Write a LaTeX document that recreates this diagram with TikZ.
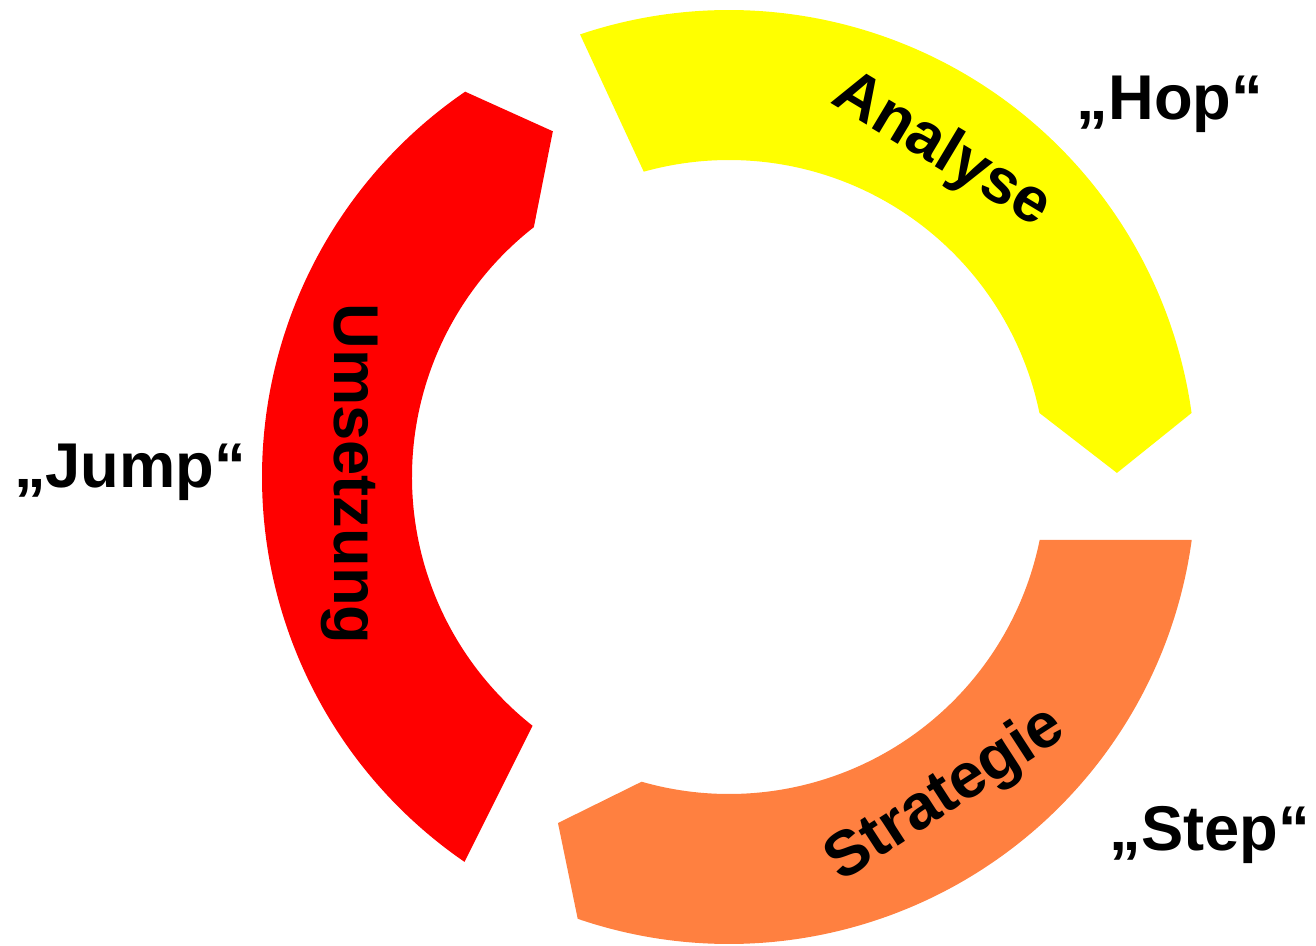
\documentclass[tikz,border=0pt]{standalone}
\usepackage{fontspec}
\setmainfont{Liberation Sans}
\definecolor{segyellow}{RGB}{255,255,0}
\definecolor{segred}{RGB}{255,0,0}
\definecolor{segorange}{RGB}{255,128,64}
\tikzset{
  seglabel/.style={font=\fontsize{36}{40}\selectfont\bfseries, inner sep=0pt, anchor=base},
  outlabel/.style={font=\fontsize{36}{40}\selectfont\bfseries, inner sep=0pt, anchor=base}
}
\begin{document}
\begin{tikzpicture}[x=0.02cm,y=0.02cm]
\useasboundingbox (-729,-469) rectangle (587,477);
% Analyse (yellow)
\fill[segyellow] (108.6:467) arc[start angle=108.6, end angle=7.88, radius=467]
  -- (0.6:388) -- (11.65:317) arc[start angle=11.65, end angle=105.6, radius=317] -- cycle;
% Strategie (orange)
\fill[segorange] (-7.75:467) arc[start angle=-7.75, end angle=-108.9, radius=467]
  -- (-116.3:386) -- (-106:317) arc[start angle=-106, end angle=-11.46, radius=317] -- cycle;
% Umsetzung (red)
\fill[segred] (235.5:467) arc[start angle=235.5, end angle=124.4, radius=467]
  -- (117:388) -- (128:317) arc[start angle=128, end angle=231.7, radius=317] -- cycle;
% segment labels
\node[seglabel, rotate=-31] (analyse) at (204,312) {Analyse};
\node[seglabel, rotate=33] (strategie) at (226,-332) {Strategie};
\node[seglabel, rotate=-90] (umsetzung) at (-394,3) {Umsetzung};
% outer labels
\node[outlabel] (hop) at (441,357) {„Hop“};
\node[outlabel] (jump) at (-599,-11) {„Jump“};
\node[outlabel] (step) at (481,-374) {„Step“};
\end{tikzpicture}
\end{document}
